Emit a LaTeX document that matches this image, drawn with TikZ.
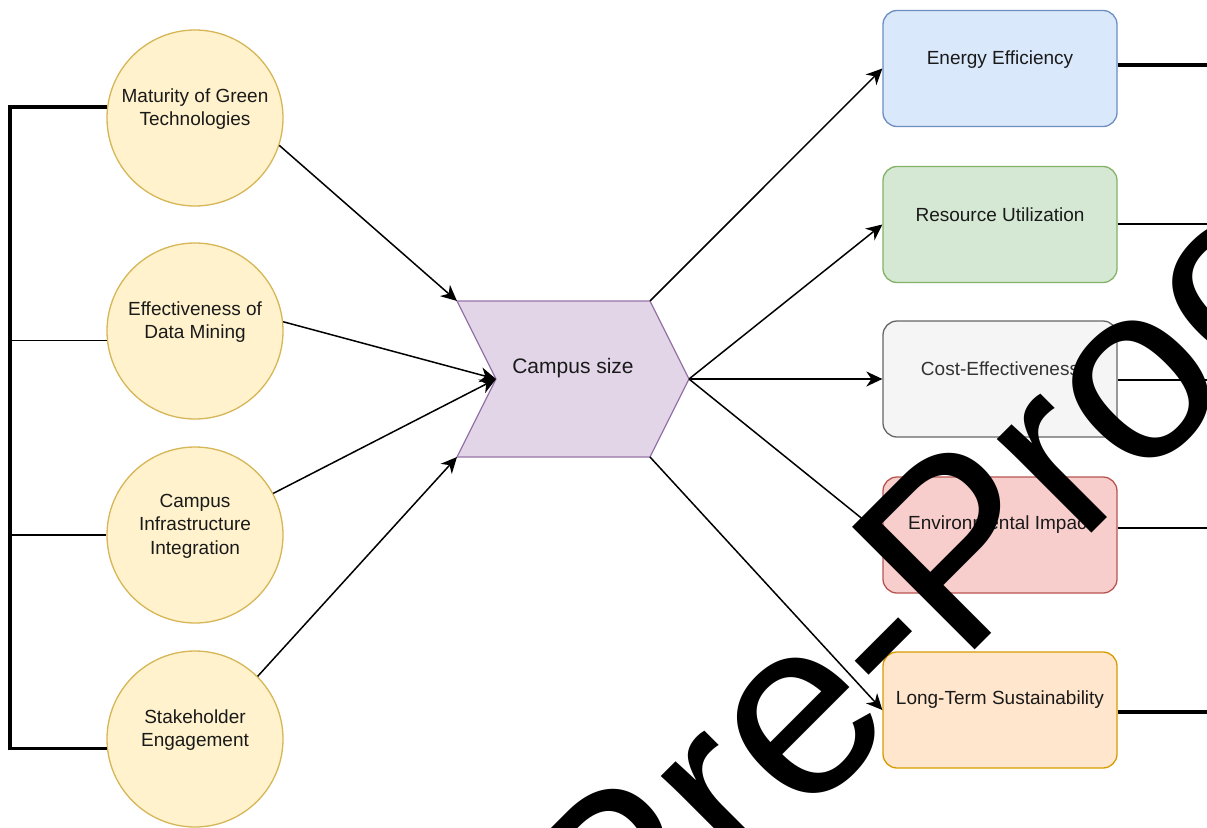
\documentclass[tikz,border=0pt]{standalone}
\usepackage{fontspec}
\setmainfont{Liberation Sans}
\usetikzlibrary{arrows.meta,calc}
\definecolor{circF}{HTML}{FFF2CC}
\definecolor{circD}{HTML}{D6B656}
\definecolor{chevF}{HTML}{E1D5E7}
\definecolor{chevD}{HTML}{9673A6}
\definecolor{blueF}{HTML}{DAE8FC}
\definecolor{blueD}{HTML}{6C8EBF}
\definecolor{greenF}{HTML}{D5E8D4}
\definecolor{greenD}{HTML}{82B366}
\definecolor{greyF}{HTML}{F5F5F5}
\definecolor{greyD}{HTML}{666666}
\definecolor{greyT}{HTML}{333333}
\definecolor{redF}{HTML}{F8CECC}
\definecolor{redD}{HTML}{B85450}
\definecolor{orF}{HTML}{FFE6CC}
\definecolor{orD}{HTML}{D79B00}
\definecolor{txt}{HTML}{1A1A1A}
\begin{document}
\begin{tikzpicture}[x=1pt,y=-1pt,
  circ/.style={circle, minimum size=176pt, inner sep=0pt, draw=circD, fill=circF, line width=1.3pt},
  box/.style={rectangle, rounded corners=14pt, minimum width=234pt, minimum height=116pt, inner sep=0pt, line width=1.3pt},
  lbl/.style={align=center, font=\fontsize{19}{23.5}\selectfont, text=txt, inner sep=0pt, yshift=9pt},
  blbl/.style={lbl, yshift=1pt},
  arr/.style={line width=1.5pt, -{Stealth[length=16pt,width=15pt,inset=5pt]}},
  thickline/.style={line width=3.5pt},
  thinline/.style={line width=1.5pt},
  wmark/.style={font=\fontsize{252}{252}\selectfont, rotate=45, anchor=base west, inner sep=0pt, text=black}
]
\useasboundingbox (0,0) rectangle (1207,827);
\clip (0,0) rectangle (1207,827);

% input circles
\node[circ, label={[lbl]center:{Maturity of Green\\Technologies}}] (m1) at (195,118) {};
\node[circ, label={[lbl]center:{Effectiveness of\\Data Mining}}] (m2) at (195,331) {};
\node[circ, label={[lbl]center:{Campus\\Infrastructure\\Integration}}] (m3) at (195,535) {};
\node[circ, label={[lbl]center:{Stakeholder\\Engagement}}] (m4) at (195,739) {};

% chevron
\coordinate (cTL) at (457,301);
\coordinate (cTR) at (650,301);
\coordinate (cR) at (689,379);
\coordinate (cBR) at (650,457);
\coordinate (cBL) at (457,457);
\coordinate (cN) at (496,379);
\filldraw[fill=chevF, draw=chevD, line width=1.3pt] (cTL) -- (cTR) -- (cR) -- (cBR) -- (cBL) -- (cN) -- cycle;
\node[font=\fontsize{21}{25}\selectfont, text=txt, inner sep=0pt] (cs) at (573,368) {Campus size};

% output boxes
\node[box, draw=blueD, fill=blueF, label={[lbl]center:{Energy Efficiency}}] (ee) at (1000,68.5) {};
\node[box, draw=greenD, fill=greenF, label={[blbl]center:{Resource Utilization}}] (ru) at (1000,224.5) {};
\node[box, draw=greyD, fill=greyF, label={[blbl,text=greyT]center:{Cost-Effectiveness}}] (ce) at (1000,379) {};
\node[box, draw=redD, fill=redF, label={[blbl]center:{Environmental Impact}}] (ei) at (1000,535) {};
\node[box, draw=orD, fill=orF, label={[blbl]center:{Long-Term Sustainability}}] (lts) at (1000,710) {};

% arrows in
\draw[arr] (m1.-18) -- (cTL);
\draw[arr] (m2.6) -- (cN);
\draw[arr] (m3.28) -- (cN);
\draw[arr] (m4.45) -- (cBL);

% arrows out
\draw[arr] (cTR) -- (ee.west);
\draw[arr] (cR) -- (ru.west);
\draw[arr] (cR) -- (ce.west);
\draw[arr] (cR) -- (ei.west);
\draw[arr] (cBR) -- (lts.west);

% left bracket
\coordinate (bL) at (10,400);
\draw[thickline] (m1.173) -| (bL) |- (m4.186);
\draw[thinline] (m2.186) -- (m2.186 -| bL);
\draw[thinline] (m3.west) -- (m3.west -| bL);

% right lines
\coordinate (r1) at (1207,65);
\coordinate (r2) at (1207,224);
\coordinate (r3) at (1207,380);
\coordinate (r4) at (1207,528);
\coordinate (r5) at (1207,712);
\draw[thickline] (ee.east |- r1) -- (r1);
\draw[thinline] (ru.east |- r2) -- (r2);
\draw[thinline] (ce.east |- r3) -- (r3);
\draw[thinline] (ei.east |- r4) -- (r4);
\draw[thickline] (lts.east |- r5) -- (r5);

% watermark
\node[wmark] (wm) at (624,1001) {Pre-Proof};
\end{tikzpicture}
\end{document}
